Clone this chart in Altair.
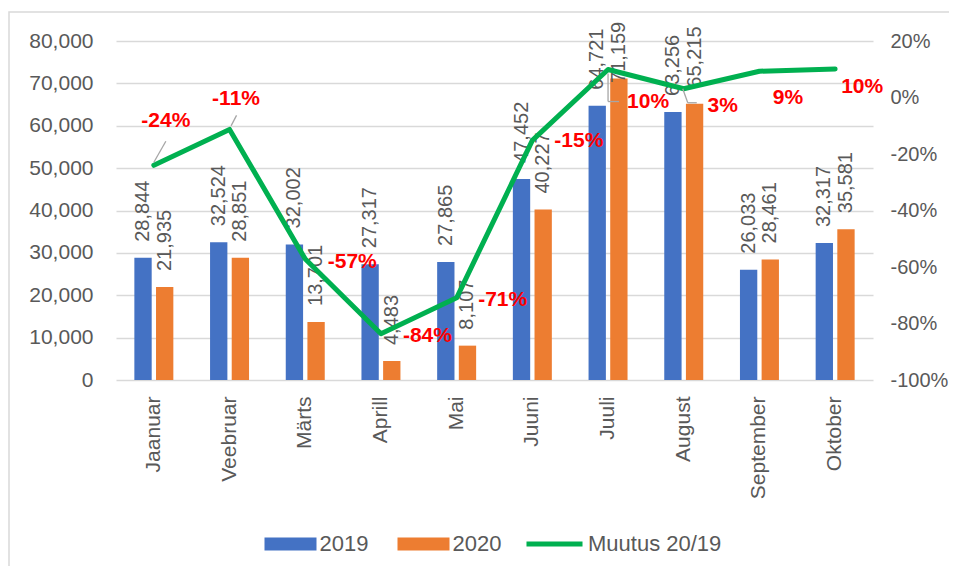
import altair as alt
import pandas as pd

# ---------------- data ----------------
months = ["Jaanuar", "Veebruar", "Märts", "Aprill", "Mai",
          "Juuni", "Juuli", "August", "September", "Oktober"]
v2019 = [28844, 32524, 32002, 27317, 27865, 47452, 64721, 63256, 26033, 32317]
v2020 = [21935, 28851, 13701, 4483, 8107, 40227, 71159, 65215, 28461, 35581]
change_pct = [-24.0, -11.3, -57.2, -83.6, -70.9, -15.2, 9.9, 3.1, 9.3, 10.1]
years = ["2019", "2020"]
series_name = "Muutus 20/19"

# ---------------- style ----------------
FONT = "Liberation Sans"
GRAY = "#595959"
GRID = "#D9D9D9"
BLUE = "#4472C4"
ORANGE = "#ED7D31"
GREEN = "#00B050"
RED = "#FF0000"

bars_df = pd.DataFrame({
    "month": months * 2,
    "year": [years[0]] * len(months) + [years[1]] * len(months),
    "value": v2019 + v2020,
})
line_df = pd.DataFrame({"month": months, "pct": change_pct,
                        "series": [series_name] * len(months)})

x_scale = alt.Scale(paddingInner=0.485, paddingOuter=0.2425)
x_axis = alt.Axis(title=None, labelAngle=270, labelFont=FONT, labelFontSize=21,
                  labelColor=GRAY, labelPadding=16, ticks=False, domain=False)


def xenc():
    return alt.X("month:N", sort=months, scale=x_scale, axis=x_axis)


xoff = alt.XOffset("year:N", sort=years, scale=alt.Scale(paddingInner=0.2, paddingOuter=0))

left_y = alt.Y("value:Q", scale=alt.Scale(domain=[0, 80000], nice=False),
               axis=alt.Axis(title=None, orient="left", values=list(range(0, 80001, 10000)),
                             format=",.0f", labelFont=FONT, labelFontSize=21, labelColor=GRAY,
                             labelPadding=23, ticks=False, domain=False,
                             gridColor=GRID, gridWidth=1.3))

bars = alt.Chart(bars_df).mark_bar().encode(
    x=xenc(), xOffset=xoff, y=left_y,
    color=alt.Color("year:N", scale=alt.Scale(domain=years, range=[BLUE, ORANGE]),
                    legend=alt.Legend(title=None, orient="none", legendX=163.5, legendY=492,
                                      direction="horizontal", symbolType="M-4,-1H4V1H-4Z",
                                      symbolSize=169, symbolStrokeWidth=0, labelOffset=18,
                                      columnPadding=29, labelFont=FONT, labelFontSize=22,
                                      labelColor=GRAY, padding=0)),
)

# value labels above bars; the tallest one is pushed down to stay inside the chart
label_base = alt.Chart(bars_df).encode(
    x=xenc(), xOffset=xoff, y=alt.Y("value:Q"), text=alt.Text("value:Q", format=",.0f"))
bar_labels = label_base.transform_filter(alt.datum.value <= 70000).mark_text(
    angle=270, align="left", baseline="middle", dx=16, font=FONT, fontSize=20, color=GRAY)
bar_labels_top = label_base.transform_filter(alt.datum.value > 70000).mark_text(
    angle=270, align="left", baseline="middle", dx=-4.5, font=FONT, fontSize=20, color=GRAY)

right_y = alt.Y("pct:Q", scale=alt.Scale(domain=[-100, 20], nice=False),
                axis=alt.Axis(title=None, orient="right", values=list(range(-100, 21, 20)),
                              labelExpr="toString(datum.value) + '%'", labelFont=FONT,
                              labelFontSize=20, labelColor=GRAY, labelPadding=17,
                              ticks=False, domain=False, grid=False))

line = alt.Chart(line_df).mark_line(strokeWidth=5, strokeCap="round", strokeJoin="round").encode(
    x=xenc(), y=right_y,
    stroke=alt.Stroke("series:N", scale=alt.Scale(domain=[series_name], range=[GREEN]),
                      legend=alt.Legend(title=None, orient="none", legendX=427.5, legendY=492,
                                        symbolType="M-4.31,0H4.31", symbolSize=169,
                                        symbolStrokeWidth=5, labelOffset=22.5,
                                        labelFont=FONT, labelFontSize=22, labelColor=GRAY,
                                        padding=0)),
)

# manual label placement (as in the original chart)
label_offsets = {
    "Jaanuar": (12, -44), "Veebruar": (6.5, -30), "Märts": (47, 2.5), "Aprill": (46.5, 2),
    "Mai": (46, 2), "Juuni": (46.5, 1), "Juuli": (40, 32), "August": (39, 17),
    "September": (28.5, 27), "Oktober": (27, 18.5),
}
pct_layers = []
for m, (ddx, ddy) in label_offsets.items():
    pct_layers.append(
        alt.Chart(line_df).transform_filter(alt.datum.month == m)
        .transform_calculate(label="toString(round(datum.pct)) + '%'")
        .mark_text(dx=ddx, dy=ddy, font=FONT, fontSize=21, fontWeight="bold", color=RED,
                   align="center", baseline="middle")
        .encode(x=xenc(), y=alt.Y("pct:Q"), text="label:N")
    )

# leader lines (offsets from the data point)
leaders_spec = [
    ("Jaanuar", 0, -3, 12, -24),
    ("Veebruar", 1.5, -3.6, 7, -14),
    ("Juuli", 0, 4, 0, 32),
    ("Juuli", 0, 32, 11, 32),
    ("August", -1, 0, 4, 14),
    ("August", 4, 14, 13, 14),
]
leader_layers = []
for m, ox, oy, ox2, oy2 in leaders_spec:
    leader_layers.append(
        alt.Chart(line_df).transform_filter(alt.datum.month == m)
        .mark_rule(color="#A6A6A6", strokeWidth=1.3, xOffset=ox, yOffset=oy,
                   x2Offset=ox2, y2Offset=oy2)
        .encode(x=xenc(), x2="month:N", y=alt.Y("pct:Q"), y2="pct:Q")
    )

border = alt.Chart(alt.Data(values=[{}])).mark_rect(
    fill=None, stroke=GRID, strokeWidth=1.5
).encode(x=alt.value(-107), x2=alt.value(960), y=alt.value(-29), y2=alt.value(620))

chart = alt.layer(
    alt.layer(bars, bar_labels, bar_labels_top),
    alt.layer(line, *leader_layers, *pct_layers),
    border,
).resolve_scale(y="independent").properties(
    width=757, height=339,
    padding={"left": 108, "top": 33, "right": 76, "bottom": 186},
    autosize=alt.AutoSizeParams(type="none"),
).configure_view(stroke=None)

chart.save("out.html", embed_options={"renderer": "svg", "actions": False})
